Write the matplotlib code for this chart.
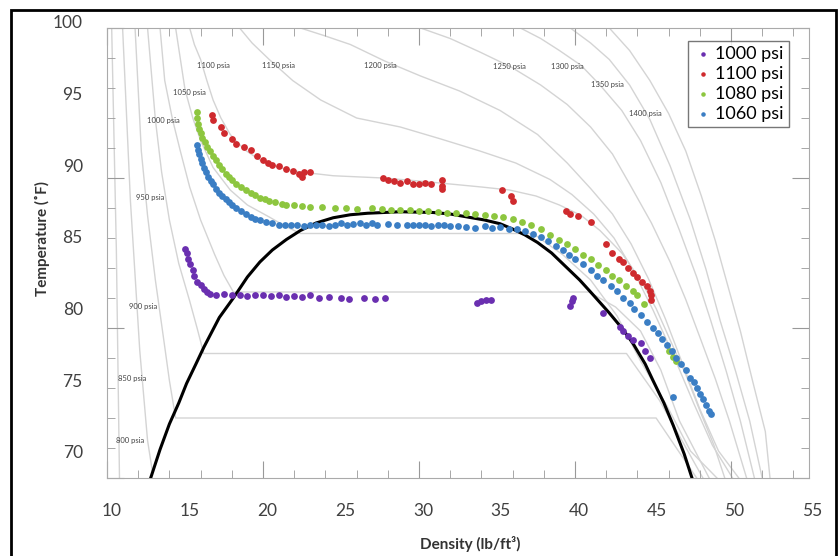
import matplotlib
matplotlib.use("Agg")
import matplotlib.pyplot as plt
from matplotlib.patches import Rectangle
from matplotlib.ticker import MultipleLocator

plt.rcParams['font.family'] = ['Lato', 'DejaVu Sans']

# measured data (density lb/ft3, temperature F)
p1100_x = [16.7, 16.8, 17.3, 17.5, 18.0, 18.3, 18.8, 19.2, 19.6, 20.0, 20.3, 20.6, 21.0, 21.5, 21.9,
           22.3, 22.6, 23.0, 22.5, 27.7, 28.0, 28.4, 28.8, 29.2, 29.6, 30.0, 30.4, 30.8, 31.5, 31.5,
           31.5, 35.3, 35.9, 36.0, 39.4, 39.7, 40.2, 41.0, 42.0, 42.4, 42.8, 43.1, 43.4, 43.7, 44.0,
           44.3, 44.6, 44.8, 44.9, 44.9]
p1100_y = [94.2, 93.9, 93.4, 93.0, 92.6, 92.3, 92.1, 91.9, 91.5, 91.2, 91.0, 90.9, 90.8, 90.6, 90.5,
           90.3, 90.4, 90.4, 90.1, 90.0, 89.9, 89.8, 89.7, 89.8, 89.6, 89.6, 89.65, 89.6, 89.9, 89.5,
           89.3, 89.2, 88.8, 88.5, 87.8, 87.6, 87.5, 87.1, 85.6, 85.0, 84.6, 84.4, 84.0, 83.7, 83.4,
           83.1, 82.8, 82.5, 82.2, 81.9]

p1080_x = [15.8, 15.8, 15.85, 15.9, 16.0, 16.1, 16.25, 16.4, 16.6, 16.8, 17.0, 17.2, 17.4, 17.6, 17.8,
           18.0, 18.3, 18.6, 18.9, 19.2, 19.5, 19.8, 20.1, 20.4, 20.8, 21.2, 21.5, 22.0, 22.5, 23.0,
           23.8, 24.6, 25.3, 26.0, 27.0, 27.6, 28.2, 28.8, 29.4, 30.0, 30.6, 31.2, 31.8, 32.4, 33.0,
           33.6, 34.2, 34.8, 35.4, 36.0, 36.6, 37.2, 37.8, 38.4, 39.0, 39.5, 40.0, 40.5, 41.0, 41.5,
           42.0, 42.4, 42.8, 43.3, 43.7, 44.0, 44.4, 46.0, 46.3, 46.5]
p1080_y = [94.4, 94.0, 93.6, 93.3, 93.0, 92.7, 92.4, 92.1, 91.8, 91.5, 91.2, 90.9, 90.6, 90.3, 90.1,
           89.9, 89.6, 89.4, 89.2, 89.0, 88.9, 88.7, 88.6, 88.5, 88.4, 88.3, 88.2, 88.2, 88.15, 88.1,
           88.05, 88.0, 88.0, 87.95, 88.0, 87.95, 87.9, 87.85, 87.9, 87.8, 87.8, 87.75, 87.7, 87.7, 87.65,
           87.6, 87.55, 87.5, 87.4, 87.3, 87.1, 86.9, 86.6, 86.2, 85.9, 85.6, 85.3, 84.9, 84.6, 84.2,
           83.9, 83.5, 83.2, 82.8, 82.5, 82.2, 81.6, 78.5, 78.1, 77.8]

p1060_x = [15.8, 15.85, 15.9, 16.0, 16.1, 16.2, 16.35, 16.5, 16.65, 16.8, 17.0, 17.2, 17.4, 17.6, 17.8,
           18.0, 18.3, 18.6, 18.9, 19.2, 19.5, 19.8, 20.2, 20.6, 21.0, 21.4, 21.8, 22.2, 22.6, 23.0,
           23.4, 23.8, 24.2, 24.6, 25.0, 25.4, 25.8, 26.2, 26.6, 27.0, 27.3, 28.0, 28.6, 29.2, 29.6,
           30.0, 30.4, 30.8, 31.2, 31.6, 32.0, 32.5, 33.0, 33.6, 34.2, 34.7, 35.2, 35.8, 36.3, 36.8,
           37.3, 37.8, 38.3, 38.8, 39.2, 39.6, 40.0, 40.5, 41.0, 41.4, 41.8, 42.3, 42.7, 43.1, 43.5,
           43.8, 44.2, 44.6, 45.0, 45.3, 45.6, 45.9, 46.2, 46.5, 46.8, 47.1, 47.4, 47.6, 47.8, 48.0,
           48.2, 48.4, 48.6, 48.7, 46.3]
p1060_y = [92.2, 91.9, 91.6, 91.3, 91.0, 90.7, 90.4, 90.1, 89.8, 89.6, 89.3, 89.0, 88.8, 88.6, 88.4,
           88.2, 88.0, 87.8, 87.6, 87.4, 87.3, 87.2, 87.1, 87.0, 86.9, 86.9, 86.85, 86.9, 86.8, 86.9,
           86.85, 86.9, 86.8, 86.9, 87.0, 86.9, 86.95, 87.0, 86.9, 87.0, 86.9, 86.95, 86.9, 86.85, 86.9,
           86.85, 86.9, 86.8, 86.9, 86.85, 86.8, 86.8, 86.75, 86.7, 86.8, 86.7, 86.75, 86.6, 86.6, 86.5,
           86.3, 86.1, 85.8, 85.5, 85.2, 84.9, 84.6, 84.3, 83.9, 83.5, 83.2, 82.8, 82.5, 82.0, 81.7,
           81.3, 80.9, 80.4, 80.0, 79.7, 79.3, 78.9, 78.5, 78.0, 77.6, 77.2, 76.7, 76.4, 76.0, 75.6,
           75.3, 74.9, 74.5, 74.3, 75.4]

p1000_x = [15.0, 15.1, 15.2, 15.3, 15.5, 15.6, 15.8, 16.0, 16.2, 16.4, 16.6, 17.0, 17.5, 18.0, 18.5,
           19.0, 19.5, 20.0, 20.5, 21.0, 21.5, 22.0, 22.5, 23.0, 23.6, 24.2, 25.0, 25.5, 26.5, 27.2,
           27.8, 33.7, 34.0, 34.3, 34.6, 39.7, 39.8, 39.9, 41.8, 42.9, 43.1, 43.4, 43.7, 44.2, 44.5, 44.8]
p1000_y = [85.3, 85.0, 84.6, 84.3, 83.9, 83.5, 83.1, 82.9, 82.6, 82.4, 82.3, 82.2, 82.25, 82.2, 82.2,
           82.15, 82.2, 82.2, 82.15, 82.2, 82.1, 82.15, 82.1, 82.2, 82.0, 82.05, 82.0, 81.95, 82.0, 81.95,
           82.0, 81.7, 81.8, 81.9, 81.85, 81.5, 81.8, 82.0, 81.0, 80.1, 79.8, 79.5, 79.2, 79.0, 78.5, 78.0]

# saturation dome
dome_x = [12.8, 13.4, 14.0, 14.6, 15.1, 15.7, 16.2, 16.7, 17.2, 18.1, 19.0, 19.8, 20.6, 21.5, 22.4,
          23.4, 24.5, 25.6, 26.7, 28.8, 30.9, 32.0, 33.1, 34.2, 35.2, 36.0, 36.8, 37.6, 38.5, 39.5,
          40.3, 41.0, 42.2, 43.0, 43.7, 44.5, 45.0, 45.7, 46.3, 47.0, 47.5]
dome_y = [70.0, 71.9, 73.6, 75.0, 76.3, 77.6, 78.7, 79.7, 80.7, 82.0, 83.4, 84.4, 85.2, 85.9, 86.5,
          87.0, 87.35, 87.55, 87.65, 87.75, 87.7, 87.6, 87.4, 87.2, 86.95, 86.6, 86.2, 85.7, 85.0, 84.0,
          83.2, 82.4, 81.0, 80.0, 79.0, 77.6, 76.5, 75.0, 73.5, 71.6, 70.0]

# isobars (psia): x and y lists
isobars = {
    '800': ([10.3, 10.6, 10.8], [100, 85.2, 70]),
    '850': ([11.0, 11.5, 12.1, 12.6, 12.9], [100, 88.5, 78.5, 72.5, 70.5]),
    '900': ([11.8, 12.2, 12.6, 13.1, 13.6, 14.0, 14.4, 45.2, 46.5, 47.8],
            [100, 91.8, 87.5, 83.2, 79.5, 76.5, 74.0, 74.0, 72.0, 70]),
    '950': ([12.6, 13.1, 13.5, 14.0, 14.6, 15.3, 15.8, 16.2, 43.3, 45.4, 48.2],
            [100, 93.9, 90.4, 87.2, 84.3, 81.8, 79.9, 78.3, 78.3, 75.2, 70]),
    '1000': ([13.4, 13.7, 14.2, 14.7, 15.3, 16.0, 16.9, 17.5, 18.1, 40.9, 42.6, 44.2, 45.5, 46.7, 48.6],
             [100, 96.5, 93.9, 91.8, 89.4, 87.2, 84.9, 83.5, 82.4, 82.4, 81.4, 79.8, 77.2, 73.8, 70]),
    '1050': ([14.4, 15.0, 15.5, 16.0, 16.8, 17.9, 19.0, 20.4, 21.4, 22.4, 37.3, 39.2, 41.0, 42.7,
              44.2, 45.9, 47.4, 49.1],
             [100, 95.9, 94.0, 92.5, 90.7, 89.2, 88.2, 87.4, 86.8, 86.3, 86.3, 84.9, 83.2, 80.8,
              77.8, 74.8, 71.8, 70]),
    '1100': ([15.3, 15.6, 16.0, 16.4, 16.8, 17.3, 17.9, 18.8, 19.8, 21.0, 22.4, 24.5, 27.7, 30.0,
              32.0, 34.0, 35.8, 37.5, 39.0, 40.4, 41.6, 43.0, 44.2, 45.2, 46.1, 47.1, 48.0, 48.9, 49.6],
             [100, 98.9, 97.9, 96.5, 95.2, 94.0, 92.9, 91.9, 91.2, 90.7, 90.4, 90.15, 90.0, 89.8,
              89.6, 89.4, 89.2, 88.8, 88.2, 87.5, 86.5, 85.0, 83.2, 81.3, 79.2, 76.9, 74.5, 72.2, 70]),
    '1150': ([18.5, 19.3, 20.4, 21.9, 23.7, 26.0, 28.8, 31.4, 33.9, 36.2, 38.4, 39.8, 41.2, 42.5,
              43.7, 45.0, 46.3, 47.6, 48.8, 50.1],
             [100, 99.0, 97.9, 96.5, 95.2, 94.0, 93.4, 92.6, 91.8, 91.0, 89.9, 88.9, 87.6, 86.0,
              83.9, 81.2, 78.2, 75.0, 72.2, 70]),
    '1200': ([22.4, 23.9, 25.6, 27.8, 30.1, 32.6, 35.2, 37.6, 39.5, 41.0, 42.4, 43.6, 44.7, 45.8,
              46.9, 48.0, 49.2, 50.5],
             [100, 99.5, 98.9, 97.8, 96.8, 95.8, 94.5, 92.9, 91.0, 89.3, 87.6, 85.6, 83.3, 80.6,
              77.6, 74.6, 71.8, 70]),
    '1250': ([30.1, 32.0, 33.9, 35.9, 37.8, 39.5, 41.0, 42.4, 43.5, 44.9, 46.1, 47.1, 48.0, 49.0,
              49.9, 51.0],
             [100, 99.3, 98.4, 97.4, 96.2, 94.9, 93.4, 91.6, 89.6, 87.0, 84.4, 81.9, 79.4, 76.6,
              73.8, 70]),
    '1300': ([36.5, 37.8, 39.0, 40.4, 41.6, 43.0, 44.2, 45.5, 46.7, 47.8, 48.7, 49.7, 50.6, 51.5],
             [100, 99.3, 98.5, 97.5, 96.2, 94.5, 92.5, 89.7, 86.5, 83.4, 80.5, 77.1, 73.8, 70]),
    '1350': ([39.7, 41.0, 42.2, 43.5, 44.8, 46.1, 47.4, 48.4, 49.3, 50.3, 51.2, 52.0],
             [100, 99.0, 97.9, 96.2, 93.9, 90.8, 87.2, 83.9, 80.5, 77.1, 73.8, 70]),
    '1400': ([42.2, 43.5, 44.8, 46.0, 47.1, 48.1, 49.0, 49.8, 50.6, 51.4, 52.2, 52.5],
             [100, 98.5, 96.5, 94.3, 91.8, 88.8, 85.8, 82.8, 79.8, 76.4, 73.1, 70]),
}
isobar_labels = ['1100 psia', '1150 psia', '1200 psia', '1250 psia', '1300 psia', '1350 psia',
                 '1400 psia', '1050 psia', '1000 psia', '950 psia', '900 psia', '850 psia', '800 psia']
label_x = [16.8, 21.0, 27.5, 35.8, 39.5, 42.1, 44.5, 15.3, 13.6, 12.8, 12.3, 11.6, 11.5]
label_y = [97.5, 97.5, 97.5, 97.4, 97.4, 96.2, 94.3, 95.7, 93.8, 88.7, 81.4, 76.6, 72.5]

fig = plt.figure(figsize=(8.4, 5.56), dpi=100)
pos = [107 / 840, 1 - 478 / 556, 702 / 840, 450 / 556]
ax = fig.add_axes(pos)

for name, (xs, ys) in isobars.items():
    ax.plot(xs, ys, color='#d4d4d4', lw=1.0, zorder=1)
for t, lx, ly in zip(isobar_labels, label_x, label_y):
    ax.text(lx, ly, t, fontsize=5.5, color='#444444', ha='center', va='center', zorder=2)

ax.plot(dome_x, dome_y, color='black', lw=2.2, zorder=3)

ms = 24
ax.scatter(p1100_x, p1100_y, s=ms, color='#cf2a2e', zorder=4, lw=0)
ax.scatter(p1080_x, p1080_y, s=ms, color='#8dc63f', zorder=4, lw=0)
ax.scatter(p1060_x, p1060_y, s=ms, color='#3b7ec4', zorder=4, lw=0)
ax.scatter(p1000_x, p1000_y, s=ms, color='#6a2fb0', zorder=4, lw=0)

# legend (entries as in the figure)
h1 = ax.scatter([], [], s=5, color='#6a2fb0')
h2 = ax.scatter([], [], s=5, color='#cf2a2e')
h3 = ax.scatter([], [], s=5, color='#8dc63f')
h4 = ax.scatter([], [], s=5, color='#3b7ec4')
leg = ax.legend([h1, h2, h3, h4], ['1000 psi', '1100 psi', '1080 psi', '1060 psi'],
                loc='upper right', bbox_to_anchor=(0.972, 0.972), fontsize=13, frameon=True,
                fancybox=False, handletextpad=0.2, labelspacing=0.22, borderpad=0.3,
                handlelength=1.0, borderaxespad=0)
leg.get_frame().set_edgecolor('#555555')
leg.get_frame().set_linewidth(1.0)

ax.set_xlim(10, 55)
ax.set_ylim(70, 100)
for s in ax.spines.values():
    s.set_color('#aaaaaa')
ax.xaxis.set_major_locator(MultipleLocator(10))
ax.xaxis.set_minor_locator(MultipleLocator(2))
ax.yaxis.set_major_locator(MultipleLocator(10))
ax.yaxis.set_minor_locator(MultipleLocator(2))
ax.tick_params(which='both', direction='in', top=True, right=True, color='#999999',
               labelbottom=False, labelleft=False)
ax.tick_params(which='major', length=12)
ax.tick_params(which='minor', length=6)

# overlay tick labels (slightly offset from the inner frame, as in the figure)
axl = fig.add_axes([112 / 840, 1 - 452 / 556, 700 / 840, 430 / 556], frameon=False)
axl.set_xlim(10, 55)
axl.set_ylim(70, 100)
axl.set_xticks([10, 15, 20, 25, 30, 35, 40, 45, 50, 55])
axl.set_yticks([70, 75, 80, 85, 90, 95, 100])
axl.tick_params(length=0, labelsize=12.5, labelcolor='#404040')
axl.tick_params(axis='x', pad=37)
axl.tick_params(axis='y', pad=21)

fig.text(470 / 840, 1 - 544 / 556, 'Density (lb/ft³)', fontsize=11, fontweight='bold',
         color='#333333', ha='center', va='center')
fig.text(42 / 840, 1 - 238 / 556, 'Temperature (˚F)', fontsize=11, fontweight='bold',
         color='#333333', ha='center', va='center', rotation=90)

fig.patches.append(Rectangle((11 / 840, -0.02), (836 - 11) / 840, (556 - 10) / 556 + 0.02,
                             transform=fig.transFigure, fill=False, lw=2, ec='black'))

fig.savefig('out.png', dpi=100)
